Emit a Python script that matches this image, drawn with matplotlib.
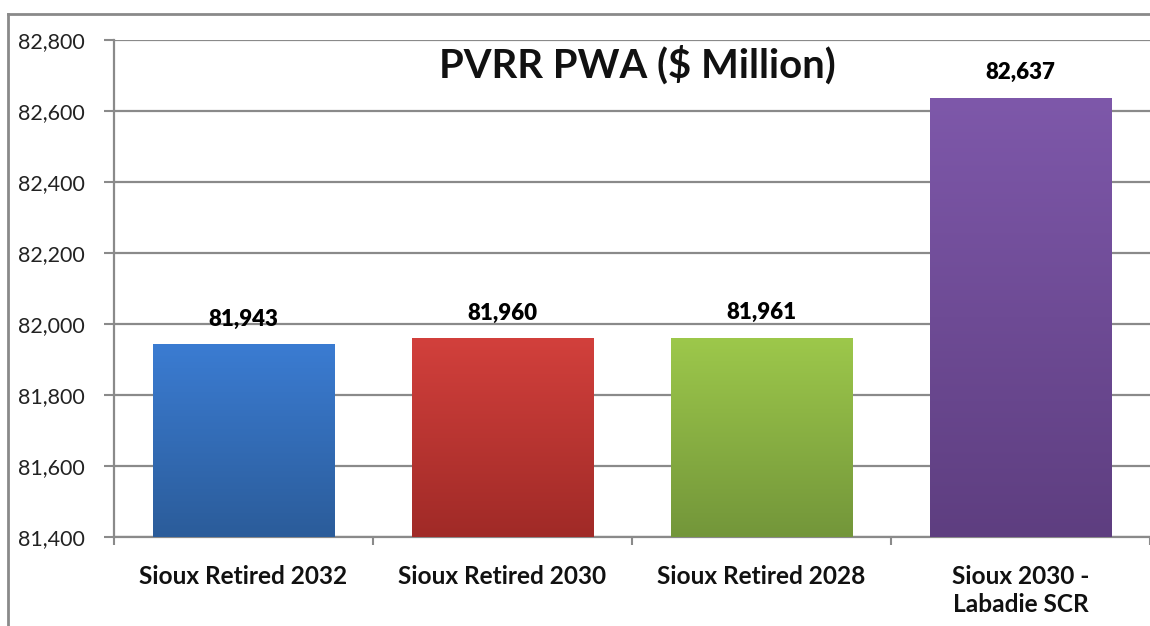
import matplotlib
matplotlib.use("Agg")
import matplotlib.pyplot as plt
import matplotlib.transforms as mtransforms
import numpy as np
from matplotlib.lines import Line2D
from matplotlib.colors import LinearSegmentedColormap

categories = ["Sioux Retired 2032", "Sioux Retired 2030", "Sioux Retired 2028", "Sioux 2030 -\nLabadie SCR"]
values = [81943, 81960, 81961, 82637]
top_colors = ["#3B7CD2", "#D2403C", "#9DC84B", "#7E58AA"]
bottom_colors = ["#2B5C9A", "#A02A27", "#73963A", "#5E3E80"]
y_ticks = [81400, 81600, 81800, 82000, 82200, 82400, 82600, 82800]
title = "PVRR PWA ($ Million)"

plt.rcParams['font.family'] = ['Lato', 'DejaVu Sans']

W, H = 1150, 626
fig = plt.figure(figsize=(W / 100, H / 100), dpi=100)

# outer frame (top and left edges visible)
fig.add_artist(Line2D([8 / W, 1.0], [1 - 14 / H, 1 - 14 / H], transform=fig.transFigure,
                      color="#8a8a8a", linewidth=2))
fig.add_artist(Line2D([8 / W, 8 / W], [0.0, 1 - 14 / H], transform=fig.transFigure,
                      color="#8a8a8a", linewidth=2))

ax = fig.add_axes([114 / W, 89 / H, (W - 114) / W, 497 / H])
ymin, ymax = 81400, 82800

x = np.arange(len(categories))
bars = ax.bar(x, [v - ymin for v in values], bottom=ymin, width=0.7, color="none", zorder=3)
for b, tc, bc in zip(bars, top_colors, bottom_colors):
    cmap = LinearSegmentedColormap.from_list("g", [bc, tc])
    grad = np.linspace(0, 1, 256).reshape(-1, 1)
    x0, y0 = b.get_x(), b.get_y()
    w, h = b.get_width(), b.get_height()
    im = ax.imshow(grad, cmap=cmap, origin="lower", aspect="auto",
                   extent=[x0, x0 + w, y0, y0 + h], zorder=3)
    im.set_clip_path(b)

ax.set_xlim(-0.5, 3.485)
ax.set_ylim(ymin, ymax)

offset = mtransforms.offset_copy(ax.transData, fig=fig, x=0, y=18, units="points")
for xi, v in zip(x, values):
    ax.text(xi, v, f"{v:,}", transform=offset, ha="center", va="center",
            fontsize=16, weight="heavy", color="#000000", zorder=5)

ax.set_yticks(y_ticks)
ax.set_yticklabels([f"{t:,}" for t in y_ticks], fontsize=15.5, color="#222222")
ax.yaxis.grid(True, color="#8a8a8a", linewidth=1.6, zorder=0)
ax.set_axisbelow(True)

ax.set_xticks(np.arange(-0.5, len(categories), 1.0))
ax.set_xticklabels([])
ax.set_xticks(x, minor=True)
ax.set_xticklabels(categories, minor=True, fontsize=17.6, fontweight="bold", color="#111111",
                   linespacing=1.3, va="top")
ax.tick_params(axis="x", which="minor", length=0, pad=20)
ax.tick_params(axis="x", which="major", length=6, color="#8a8a8a", width=1.5)
ax.tick_params(axis="y", length=7, color="#8a8a8a", width=1.5, pad=14)

for s in ["top", "right"]:
    ax.spines[s].set_visible(False)
for s in ["left", "bottom"]:
    ax.spines[s].set_color("#8a8a8a")
    ax.spines[s].set_linewidth(1.6)

ax.text(637 / W, 1 - 65 / H, title, transform=fig.transFigure, ha="center", va="center",
        fontsize=28.8, fontweight="bold", color="#111111")

fig.savefig("out.png", dpi=100)
